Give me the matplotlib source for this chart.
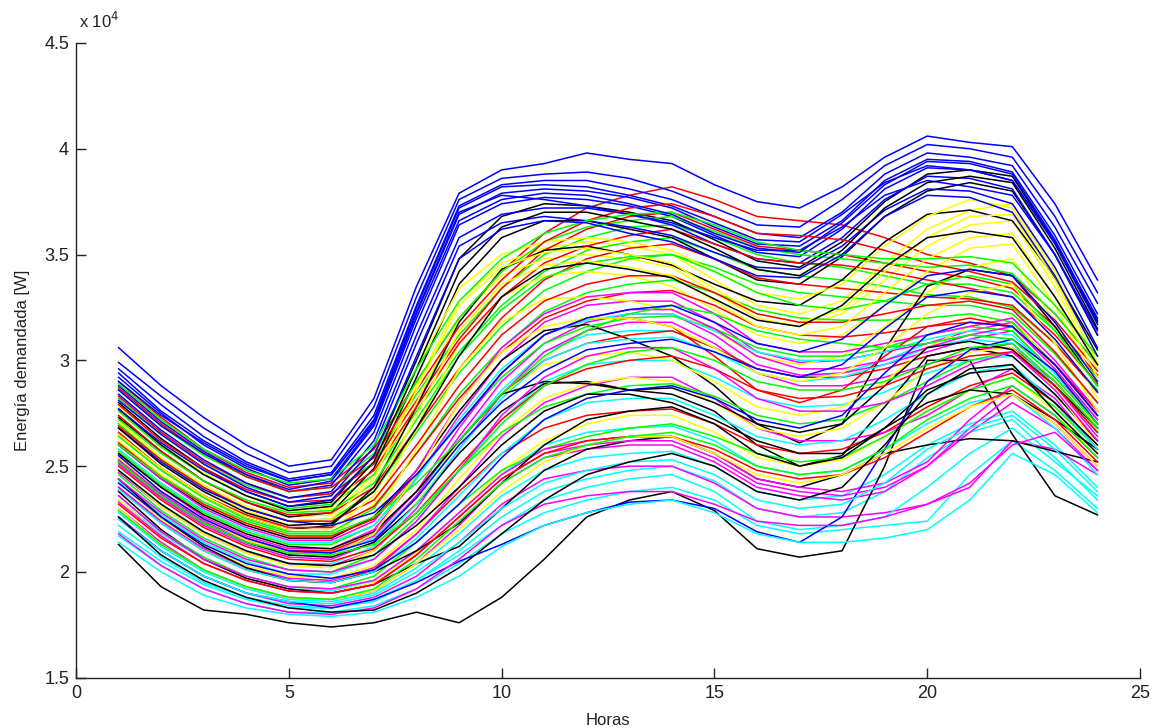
import matplotlib
matplotlib.use('Agg')
import matplotlib.pyplot as plt
from matplotlib.ticker import FuncFormatter

plt.rcParams['font.family'] = ['Liberation Sans Narrow', 'Liberation Sans', 'DejaVu Sans']

# Hourly demand of each day, in thousands of W
horas = list(range(1, 25))

azul = [
    [30.6, 28.8, 27.3, 26.0, 25.0, 25.3, 28.2, 33.5, 37.9, 39.0, 39.3, 39.8, 39.5, 39.3, 38.3, 37.5, 37.2, 38.2, 39.6, 40.6, 40.3, 40.1, 37.4, 33.8],
    [29.9, 28.3, 26.8, 25.6, 24.7, 25.0, 27.8, 33.0, 37.6, 38.6, 38.8, 38.9, 38.6, 38.0, 37.2, 36.4, 36.3, 37.6, 39.2, 40.2, 40.0, 39.6, 36.8, 33.2],
    [29.6, 27.9, 26.4, 25.2, 24.4, 24.7, 27.4, 32.6, 37.3, 38.3, 38.5, 38.5, 38.1, 37.6, 36.8, 36.0, 35.8, 37.0, 38.8, 39.8, 39.6, 39.2, 36.3, 32.7],
    [29.2, 27.5, 26.0, 24.9, 24.1, 24.4, 27.0, 32.2, 36.9, 37.9, 38.1, 38.0, 37.7, 37.2, 36.3, 35.5, 35.4, 36.6, 38.5, 39.5, 39.4, 38.9, 35.9, 32.2],
    [28.8, 27.1, 25.7, 24.6, 23.8, 24.1, 26.6, 31.7, 36.4, 37.4, 37.7, 37.6, 37.3, 36.8, 35.9, 35.1, 34.9, 36.2, 38.1, 39.1, 39.0, 38.5, 35.5, 31.7],
    [28.4, 26.7, 25.3, 24.2, 23.5, 23.8, 26.2, 31.2, 35.8, 36.9, 37.2, 37.2, 36.9, 36.4, 35.5, 34.8, 34.6, 35.8, 37.6, 38.7, 38.6, 38.1, 35.0, 31.2],
    [29.0, 27.4, 26.1, 25.0, 24.3, 24.6, 27.2, 32.5, 37.2, 38.2, 38.3, 38.2, 37.8, 37.3, 36.5, 35.7, 35.6, 36.9, 38.4, 39.2, 39.0, 38.5, 35.6, 32.0],
    [28.1, 26.5, 25.1, 24.0, 23.3, 23.6, 25.9, 30.8, 35.4, 36.5, 36.8, 36.6, 36.3, 35.9, 35.1, 34.4, 34.3, 35.4, 37.1, 38.1, 38.0, 37.4, 34.4, 30.6],
    [29.4, 27.6, 26.2, 25.1, 24.3, 24.6, 27.1, 32.3, 37.0, 37.8, 37.6, 37.3, 36.9, 36.5, 35.8, 35.2, 35.2, 36.3, 37.8, 38.5, 38.2, 37.8, 35.0, 31.4],
    [22.5, 21.0, 19.8, 19.0, 18.6, 18.3, 18.7, 19.5, 20.5, 21.3, 22.2, 22.8, 23.3, 23.4, 23.0, 21.9, 21.4, 22.6, 25.8, 29.0, 30.5, 31.0, 29.5, 27.0],
    [25.5, 23.8, 22.5, 21.6, 21.0, 20.9, 21.5, 23.5, 26.0, 28.0, 29.5, 30.5, 30.8, 31.0, 30.4, 29.6, 29.2, 29.8, 31.5, 33.0, 33.3, 33.0, 31.0, 28.5],
    [26.8, 25.2, 23.9, 23.0, 22.4, 22.2, 22.8, 24.6, 27.0, 29.4, 31.2, 32.0, 32.4, 32.6, 31.8, 30.8, 30.4, 31.0, 32.6, 34.0, 34.3, 34.0, 31.8, 29.0],
    [28.6, 26.9, 25.6, 24.6, 23.9, 24.3, 26.9, 32.0, 36.6, 37.6, 37.9, 37.8, 37.4, 36.9, 36.0, 35.3, 35.1, 36.5, 38.3, 39.4, 39.3, 38.8, 35.7, 31.9],
    [27.7, 26.1, 24.8, 23.8, 23.1, 23.4, 25.5, 30.2, 34.8, 36.2, 36.6, 36.5, 36.0, 35.6, 34.8, 34.0, 33.9, 35.0, 36.8, 37.8, 37.7, 37.0, 34.0, 30.2],
    [24.2, 22.6, 21.3, 20.4, 19.9, 19.7, 20.1, 21.4, 23.2, 25.4, 27.2, 28.2, 28.6, 28.8, 28.2, 27.2, 26.8, 27.4, 29.4, 31.2, 31.8, 31.6, 29.8, 27.4],
]

verde = [
    [28.2, 26.5, 25.1, 24.1, 23.5, 23.7, 25.2, 28.4, 31.2, 33.4, 35.0, 35.8, 36.3, 36.4, 35.8, 35.0, 34.6, 34.4, 34.0, 33.6, 33.6, 33.2, 31.4, 29.2],
    [27.6, 25.9, 24.6, 23.6, 23.0, 23.2, 24.6, 27.6, 30.4, 32.6, 34.2, 35.2, 35.6, 35.8, 35.1, 34.3, 34.0, 33.8, 33.5, 33.1, 33.0, 32.5, 30.8, 28.6],
    [27.0, 25.3, 24.0, 23.0, 22.4, 22.5, 23.8, 26.6, 29.4, 31.6, 33.3, 34.2, 34.8, 35.0, 34.4, 33.6, 33.2, 33.0, 32.8, 32.6, 32.6, 32.2, 30.3, 28.0],
    [26.4, 24.8, 23.5, 22.5, 21.9, 21.9, 23.0, 25.6, 28.4, 30.6, 32.3, 33.2, 33.6, 33.8, 33.2, 32.4, 32.0, 31.9, 31.9, 32.0, 32.2, 31.8, 29.8, 27.6],
    [25.7, 24.1, 22.8, 21.9, 21.3, 21.3, 22.2, 24.5, 27.0, 29.2, 30.8, 31.6, 32.0, 32.1, 31.5, 30.6, 30.2, 30.2, 30.6, 31.2, 31.6, 31.4, 29.4, 27.2],
    [28.6, 26.9, 25.5, 24.5, 23.8, 24.0, 25.6, 29.0, 32.0, 34.2, 35.6, 36.3, 36.6, 36.8, 36.1, 35.3, 35.0, 34.8, 34.6, 34.4, 34.5, 34.1, 32.2, 29.8],
    [24.6, 22.9, 21.6, 20.7, 20.1, 20.0, 20.8, 22.6, 24.8, 26.6, 27.8, 28.4, 28.8, 28.9, 28.3, 27.4, 27.0, 27.2, 28.0, 29.0, 30.0, 30.4, 28.8, 26.6],
    [23.6, 21.9, 20.7, 19.8, 19.3, 19.2, 19.8, 21.4, 23.2, 24.8, 25.8, 26.4, 26.8, 27.0, 26.4, 25.6, 25.2, 25.4, 26.4, 27.6, 28.6, 29.2, 27.8, 25.8],
    [27.2, 25.6, 24.3, 23.4, 22.8, 22.9, 24.2, 27.2, 30.2, 32.4, 33.9, 34.6, 34.9, 35.0, 34.2, 33.2, 32.6, 32.4, 32.8, 33.6, 34.0, 33.6, 31.4, 28.8],
    [26.0, 24.5, 23.3, 22.4, 21.8, 21.8, 22.6, 24.2, 26.2, 28.4, 30.2, 31.4, 32.2, 32.6, 32.2, 31.4, 31.0, 30.8, 30.6, 30.8, 31.2, 31.0, 29.2, 27.0],
    [25.2, 23.6, 22.3, 21.4, 20.9, 20.8, 21.3, 22.8, 24.8, 27.0, 28.8, 29.8, 30.4, 30.6, 30.0, 29.0, 28.6, 28.6, 29.0, 29.8, 30.6, 30.8, 29.0, 26.8],
    [28.9, 27.2, 25.8, 24.8, 24.2, 24.4, 26.0, 29.6, 32.8, 34.8, 36.0, 36.6, 36.9, 37.0, 36.4, 35.6, 35.2, 35.0, 34.8, 34.8, 34.9, 34.6, 32.6, 30.2],
    [22.9, 21.3, 20.1, 19.3, 18.8, 18.7, 19.2, 20.6, 22.4, 24.2, 25.4, 26.0, 26.4, 26.6, 26.0, 25.0, 24.6, 24.8, 25.8, 27.2, 28.2, 28.8, 27.4, 25.4],
]

rojo = [
    [29.0, 27.3, 25.8, 24.7, 24.0, 24.2, 25.8, 29.0, 32.0, 34.2, 36.0, 37.2, 37.8, 38.2, 37.6, 36.8, 36.6, 36.4, 35.8, 35.0, 34.6, 34.0, 32.2, 29.8],
    [28.3, 26.6, 25.2, 24.2, 23.5, 23.7, 25.1, 28.1, 31.0, 33.4, 35.2, 36.2, 36.8, 37.0, 36.2, 35.4, 35.2, 35.0, 34.6, 34.2, 33.9, 33.4, 31.6, 29.3],
    [27.4, 25.7, 24.3, 23.3, 22.7, 22.8, 24.0, 26.8, 29.6, 32.0, 33.8, 34.8, 35.3, 35.5, 34.8, 33.9, 33.6, 33.4, 33.2, 33.0, 32.9, 32.6, 30.8, 28.5],
    [26.6, 24.9, 23.6, 22.7, 22.1, 22.1, 23.1, 25.6, 28.2, 30.4, 32.0, 32.8, 33.2, 33.3, 32.6, 31.6, 31.2, 31.1, 31.3, 31.6, 31.8, 31.6, 29.8, 27.6],
    [25.4, 23.8, 22.5, 21.6, 21.0, 21.0, 21.8, 23.8, 26.2, 28.4, 30.0, 30.8, 31.2, 31.4, 30.6, 29.6, 29.2, 29.2, 29.6, 30.2, 30.6, 30.6, 29.0, 26.8],
    [24.0, 22.3, 21.0, 20.1, 19.6, 19.5, 20.1, 21.8, 23.8, 25.6, 26.8, 27.4, 27.6, 27.7, 27.0, 26.0, 25.6, 25.8, 26.6, 27.8, 28.8, 29.4, 28.0, 25.8],
    [27.9, 26.2, 24.9, 23.9, 23.3, 23.4, 24.8, 27.8, 30.8, 33.0, 34.6, 35.4, 35.9, 36.2, 35.5, 34.8, 34.6, 34.5, 34.2, 33.8, 33.4, 33.0, 31.2, 28.9],
    [26.1, 24.5, 23.2, 22.3, 21.7, 21.7, 22.5, 24.6, 27.0, 29.4, 31.2, 32.0, 32.0, 31.6, 30.2, 28.6, 28.0, 28.6, 30.2, 31.6, 32.0, 31.6, 29.8, 27.4],
    [28.7, 27.0, 25.6, 24.5, 23.8, 24.0, 25.4, 28.6, 31.6, 33.8, 35.6, 36.6, 37.2, 37.4, 36.8, 36.0, 35.9, 35.7, 35.2, 34.6, 34.2, 33.7, 31.9, 29.5],
    [25.0, 23.4, 22.1, 21.2, 20.6, 20.5, 21.1, 22.8, 25.0, 27.2, 28.8, 29.6, 30.0, 30.2, 29.6, 28.6, 28.2, 28.3, 28.8, 29.6, 30.2, 30.4, 28.8, 26.6],
    [26.9, 25.3, 24.0, 23.0, 22.4, 22.4, 23.4, 26.0, 28.8, 31.2, 32.8, 33.6, 34.0, 34.0, 33.2, 32.2, 31.8, 31.8, 32.2, 32.6, 32.8, 32.4, 30.4, 28.0],
    [23.2, 21.6, 20.4, 19.6, 19.1, 19.0, 19.4, 20.8, 22.6, 24.4, 25.6, 26.2, 26.4, 26.4, 25.8, 24.8, 24.4, 24.6, 25.4, 26.6, 27.8, 28.6, 27.2, 25.2],
]

cian = [
    [25.2, 23.6, 22.3, 21.4, 20.8, 20.8, 21.6, 23.6, 26.2, 28.6, 30.4, 31.2, 31.4, 31.4, 30.6, 29.6, 29.2, 29.4, 30.0, 30.8, 31.2, 31.0, 29.2, 27.0],
    [24.3, 22.7, 21.4, 20.5, 19.9, 19.9, 20.6, 22.4, 24.8, 27.2, 29.0, 29.8, 30.0, 30.0, 29.2, 28.2, 27.8, 27.9, 28.5, 29.4, 30.0, 30.2, 28.4, 26.2],
    [22.8, 21.2, 20.0, 19.2, 18.7, 18.6, 19.0, 20.2, 21.8, 23.6, 24.8, 25.4, 25.6, 25.7, 25.0, 23.8, 23.4, 23.6, 24.6, 26.0, 27.0, 27.6, 26.0, 24.0],
    [22.2, 20.7, 19.5, 18.8, 18.4, 18.3, 18.6, 19.6, 21.0, 22.6, 23.8, 24.4, 24.8, 25.0, 24.3, 23.0, 22.6, 22.8, 23.8, 25.4, 26.6, 27.2, 25.4, 23.4],
    [21.7, 20.3, 19.2, 18.5, 18.1, 18.1, 18.4, 19.2, 20.4, 21.8, 22.8, 23.4, 23.8, 24.0, 23.4, 22.2, 21.8, 22.0, 22.2, 22.4, 24.6, 26.2, 24.8, 23.0],
    [23.4, 21.8, 20.6, 19.7, 19.2, 19.1, 19.6, 21.0, 22.8, 24.6, 26.0, 26.6, 26.8, 26.9, 26.2, 25.0, 24.6, 24.8, 25.8, 27.0, 28.0, 28.4, 26.8, 24.6],
    [21.9, 20.5, 19.4, 18.7, 18.3, 18.3, 18.7, 19.6, 20.8, 22.2, 23.4, 24.0, 24.4, 24.6, 23.8, 22.4, 22.0, 22.2, 22.6, 24.0, 25.6, 26.8, 25.2, 23.6],
    [25.8, 24.2, 22.9, 22.0, 21.4, 21.4, 22.2, 24.4, 27.2, 29.6, 31.2, 31.9, 32.2, 32.2, 31.4, 30.4, 30.0, 30.0, 30.4, 31.0, 31.4, 31.2, 29.4, 27.2],
    [24.8, 23.2, 21.9, 21.0, 20.4, 20.4, 21.2, 23.2, 25.8, 28.2, 30.0, 30.8, 31.0, 31.1, 30.4, 29.4, 29.0, 29.2, 29.8, 30.6, 31.0, 30.8, 28.8, 26.6],
    [23.9, 22.3, 21.0, 20.1, 19.6, 19.5, 20.0, 21.6, 23.6, 25.6, 27.2, 28.0, 28.2, 28.2, 27.4, 26.4, 26.0, 26.2, 27.2, 28.4, 29.4, 29.8, 28.0, 25.8],
    [21.4, 20.0, 18.9, 18.3, 18.0, 17.9, 18.1, 18.8, 19.8, 21.2, 22.2, 22.8, 23.2, 23.4, 22.8, 21.8, 21.4, 21.4, 21.6, 22.0, 23.4, 25.6, 24.6, 22.8],
    [22.5, 21.0, 19.8, 19.0, 18.6, 18.5, 18.9, 20.0, 21.4, 23.0, 24.2, 24.8, 25.2, 25.3, 24.6, 23.4, 23.0, 23.2, 24.2, 25.8, 26.8, 27.4, 25.8, 23.8],
]

magenta = [
    [25.6, 24.0, 22.6, 21.7, 21.1, 21.1, 22.0, 24.4, 27.4, 30.0, 31.8, 32.6, 32.8, 32.8, 31.8, 30.4, 29.9, 30.0, 30.4, 30.8, 31.4, 31.8, 29.8, 27.4],
    [25.1, 23.5, 22.2, 21.3, 20.7, 20.6, 21.4, 23.6, 26.4, 29.0, 30.8, 31.8, 32.2, 32.2, 31.2, 29.8, 29.3, 29.4, 29.8, 30.4, 31.0, 31.4, 29.4, 27.0],
    [24.7, 23.1, 21.8, 20.9, 20.4, 20.3, 21.0, 23.0, 25.8, 28.4, 30.4, 31.4, 31.8, 31.8, 30.8, 29.4, 28.8, 28.8, 29.2, 29.8, 30.4, 30.8, 28.8, 26.4],
    [23.0, 21.4, 20.1, 19.3, 18.8, 18.7, 19.1, 20.4, 22.2, 24.2, 25.4, 25.8, 26.0, 26.0, 25.2, 24.0, 23.6, 23.4, 23.8, 25.0, 26.6, 28.0, 26.8, 24.8],
    [22.6, 21.0, 19.8, 19.0, 18.5, 18.4, 18.8, 19.8, 21.4, 23.2, 24.4, 24.8, 25.0, 25.0, 24.2, 23.0, 22.6, 22.6, 22.8, 23.2, 24.0, 26.2, 25.8, 24.6],
    [24.0, 22.4, 21.1, 20.2, 19.7, 19.6, 20.2, 21.8, 24.0, 26.4, 28.0, 28.8, 29.2, 29.2, 28.2, 26.8, 26.2, 26.2, 26.6, 27.4, 28.6, 29.6, 28.2, 25.8],
    [26.0, 24.4, 23.0, 22.1, 21.5, 21.5, 22.4, 24.8, 28.0, 30.6, 32.2, 33.0, 33.2, 33.2, 32.2, 30.8, 30.4, 30.4, 30.8, 31.2, 31.6, 32.0, 30.0, 27.6],
    [23.6, 21.9, 20.6, 19.8, 19.3, 19.2, 19.6, 21.0, 22.8, 24.6, 25.8, 26.2, 26.4, 26.4, 25.6, 24.4, 24.0, 23.8, 24.2, 25.2, 27.2, 28.8, 27.4, 25.4],
    [25.3, 23.7, 22.4, 21.5, 20.9, 20.9, 21.7, 23.8, 26.8, 29.4, 31.2, 32.0, 32.4, 32.4, 31.5, 30.2, 29.6, 29.6, 30.0, 30.6, 31.2, 31.6, 29.6, 27.2],
    [24.4, 22.8, 21.5, 20.6, 20.1, 20.0, 20.6, 22.4, 24.8, 27.4, 29.2, 30.2, 30.6, 30.6, 29.6, 28.2, 27.6, 27.6, 28.0, 28.8, 29.8, 30.4, 28.6, 26.2],
    [23.3, 21.7, 20.4, 19.6, 19.1, 19.0, 19.4, 20.8, 22.6, 24.4, 25.6, 26.0, 26.2, 26.2, 25.4, 24.2, 23.8, 23.6, 24.0, 25.0, 26.8, 28.4, 27.0, 25.0],
    [21.8, 20.3, 19.2, 18.5, 18.1, 18.0, 18.3, 19.2, 20.6, 22.2, 23.2, 23.6, 23.8, 23.8, 23.2, 22.4, 22.2, 22.2, 22.6, 23.2, 24.2, 26.0, 26.6, 24.8],
]

amarillo = [
    [27.4, 25.7, 24.3, 23.3, 22.6, 22.7, 24.6, 28.8, 32.8, 34.6, 35.3, 35.6, 35.4, 35.0, 33.8, 32.6, 32.2, 32.8, 34.6, 36.2, 37.1, 37.4, 34.2, 30.2],
    [26.9, 25.2, 23.9, 22.9, 22.2, 22.3, 24.0, 28.0, 32.0, 34.0, 34.8, 35.0, 34.8, 34.4, 33.2, 32.0, 31.6, 32.2, 33.8, 35.4, 36.4, 36.6, 33.5, 29.6],
    [26.2, 24.6, 23.3, 22.3, 21.7, 21.7, 23.2, 26.8, 30.8, 33.0, 34.0, 34.2, 34.0, 33.5, 32.4, 31.2, 30.8, 31.2, 32.6, 34.2, 35.3, 35.5, 32.6, 28.8],
    [25.8, 24.2, 22.9, 21.9, 21.3, 21.3, 22.6, 25.8, 29.6, 31.8, 32.9, 33.0, 32.8, 32.4, 31.4, 30.2, 29.8, 30.2, 31.6, 33.2, 34.4, 34.8, 31.8, 28.2],
    [24.8, 23.1, 21.8, 20.9, 20.3, 20.2, 21.0, 23.3, 26.2, 28.4, 29.8, 30.2, 30.4, 30.0, 29.0, 27.8, 27.4, 27.8, 29.0, 30.6, 31.6, 32.0, 29.6, 26.8],
    [24.2, 22.5, 21.2, 20.3, 19.8, 19.7, 20.3, 22.0, 24.4, 26.6, 28.2, 28.9, 29.2, 29.0, 28.0, 26.8, 26.4, 26.8, 28.0, 29.6, 30.4, 30.6, 28.6, 26.0],
    [23.4, 21.7, 20.4, 19.6, 19.1, 19.0, 19.5, 20.9, 22.8, 24.8, 26.2, 27.0, 27.4, 27.4, 26.6, 25.4, 25.0, 25.3, 26.4, 27.6, 28.6, 29.2, 27.6, 25.4],
    [27.8, 26.0, 24.7, 23.6, 22.9, 23.0, 25.2, 29.6, 33.4, 35.0, 35.6, 35.8, 35.6, 35.2, 34.2, 33.2, 32.9, 33.6, 35.4, 36.8, 37.6, 37.2, 34.0, 29.8],
    [27.1, 25.4, 24.1, 23.1, 22.4, 22.5, 24.4, 28.6, 32.6, 34.4, 35.1, 35.3, 35.0, 34.6, 33.4, 32.2, 31.8, 32.4, 34.2, 35.8, 36.8, 36.9, 33.8, 29.9],
    [25.4, 23.8, 22.5, 21.5, 20.9, 20.8, 21.8, 24.6, 28.0, 30.4, 31.6, 32.0, 32.0, 31.6, 30.6, 29.4, 29.0, 29.4, 30.6, 32.2, 33.2, 33.6, 30.8, 27.6],
    [26.5, 24.9, 23.6, 22.6, 22.0, 22.0, 23.6, 27.4, 31.4, 33.6, 34.5, 34.7, 34.4, 34.0, 32.8, 31.6, 31.2, 31.6, 33.2, 34.8, 35.8, 36.0, 33.0, 29.2],
    [23.0, 21.3, 20.1, 19.3, 18.8, 18.7, 19.1, 20.4, 22.0, 23.8, 25.2, 26.0, 26.4, 26.4, 25.6, 24.6, 24.2, 24.6, 25.6, 26.8, 27.8, 28.4, 27.0, 25.0],
]

negro = [
    [28.0, 26.3, 24.9, 23.8, 23.1, 23.3, 25.5, 30.0, 34.8, 36.8, 37.4, 37.3, 37.0, 36.6, 35.7, 34.7, 34.4, 35.6, 37.5, 38.8, 39.0, 38.7, 35.6, 31.8],
    [27.3, 25.7, 24.3, 23.3, 22.6, 22.8, 24.9, 29.2, 33.6, 35.8, 36.6, 36.6, 36.2, 35.8, 34.8, 33.8, 33.6, 34.9, 36.8, 38.0, 38.4, 38.0, 35.0, 31.2],
    [26.5, 24.9, 23.6, 22.6, 22.0, 22.2, 24.0, 27.8, 31.8, 34.3, 35.2, 35.4, 35.0, 34.5, 33.6, 32.8, 32.6, 33.8, 35.6, 36.9, 37.1, 36.6, 33.9, 30.5],
    [26.0, 24.4, 23.1, 22.2, 21.6, 21.6, 22.6, 24.8, 27.6, 30.0, 31.4, 31.7, 31.0, 30.2, 28.8, 27.0, 26.1, 27.0, 30.5, 33.5, 34.3, 34.0, 31.6, 28.8],
    [25.2, 23.6, 22.3, 21.4, 20.8, 20.7, 21.4, 23.2, 25.6, 27.6, 28.9, 29.0, 28.6, 28.4, 27.6, 26.0, 25.0, 25.5, 27.8, 30.2, 30.6, 30.2, 28.4, 26.2],
    [21.3, 19.3, 18.2, 18.0, 17.6, 17.4, 17.6, 18.1, 17.6, 18.8, 20.6, 22.6, 23.4, 23.8, 22.9, 21.1, 20.7, 21.0, 25.0, 30.0, 30.0, 26.5, 23.6, 22.7],
    [23.8, 22.0, 20.6, 19.7, 19.2, 19.0, 19.4, 20.4, 21.2, 23.0, 24.8, 25.8, 26.2, 26.4, 25.6, 24.4, 24.0, 24.6, 25.6, 26.0, 26.3, 26.2, 25.7, 25.2],
    [24.4, 22.6, 21.2, 20.2, 19.6, 19.5, 20.0, 21.0, 22.3, 24.2, 26.0, 27.2, 27.6, 27.8, 27.0, 25.6, 25.0, 25.4, 26.8, 28.0, 28.6, 28.4, 27.2, 25.8],
    [25.6, 24.0, 22.7, 21.8, 21.2, 21.1, 21.9, 23.8, 26.2, 28.4, 29.0, 28.9, 28.6, 28.7, 28.0, 27.0, 26.6, 27.0, 28.8, 30.6, 30.9, 30.5, 28.8, 26.8],
    [27.7, 26.0, 24.6, 23.6, 22.9, 23.1, 25.2, 29.6, 34.2, 36.3, 37.0, 37.0, 36.6, 36.2, 35.3, 34.3, 34.0, 35.2, 37.2, 38.4, 38.7, 38.4, 35.3, 31.5],
    [24.8, 23.2, 21.9, 21.0, 20.4, 20.3, 20.8, 22.2, 24.0, 26.0, 27.6, 28.4, 28.4, 28.0, 27.2, 26.2, 25.6, 25.6, 26.8, 28.6, 29.4, 29.6, 28.0, 26.0],
    [22.6, 20.8, 19.6, 18.8, 18.3, 18.1, 18.2, 19.0, 20.2, 21.8, 23.4, 24.6, 25.2, 25.6, 25.0, 23.8, 23.4, 24.0, 26.0, 28.4, 29.6, 29.8, 27.6, 25.6],
    [26.8, 25.1, 23.8, 22.8, 22.2, 22.3, 23.8, 26.8, 30.2, 33.0, 34.3, 34.6, 34.3, 33.9, 32.9, 31.9, 31.6, 32.6, 34.4, 35.8, 36.1, 35.8, 33.0, 29.8],
]

# MATLAB default line colour order: b, g, r, c, m, y, k
grupos = [
    (azul, (0, 0, 1)),
    (verde, (0, 1, 0)),
    (rojo, (1, 0, 0)),
    (cian, (0, 1, 1)),
    (magenta, (1, 0, 1)),
    (amarillo, (1, 1, 0)),
    (negro, (0, 0, 0)),
]

fig = plt.figure(figsize=(11.52, 7.28), dpi=100)
ax = fig.add_axes([0.066, 0.069, 0.9236, 0.872])

# interleave the days so that no colour sits entirely on top
n_max = max(len(g) for g, _ in grupos)
for i in range(n_max):
    for curvas, color in grupos:
        if i < len(curvas):
            ax.plot(horas, [v * 1000 for v in curvas[i]], color=color, lw=1.1)

ax.set_xlim(0, 25)
ax.set_ylim(15000, 45000)
ax.set_xticks(range(0, 26, 5))
ax.set_yticks(range(15000, 45001, 5000))
ax.yaxis.set_major_formatter(FuncFormatter(lambda v, p: f'{v / 1e4:g}'))

for lado in ('top', 'right'):
    ax.spines[lado].set_visible(False)
for lado in ('left', 'bottom'):
    ax.spines[lado].set_linewidth(1.0)
    ax.spines[lado].set_color('#222222')
ax.tick_params(direction='in', length=7, width=1.0, labelsize=13,
               colors='#222222', pad=5)

ax.set_xlabel('Horas', fontsize=12, color='#222222', labelpad=8)
ax.set_ylabel('Energía demandada [W]', fontsize=12, color='#222222', labelpad=10)
fig.text(0.069, 0.962, r'x 10$^{4}$', fontsize=12, color='#222222')

fig.savefig('out.png', dpi=100)
